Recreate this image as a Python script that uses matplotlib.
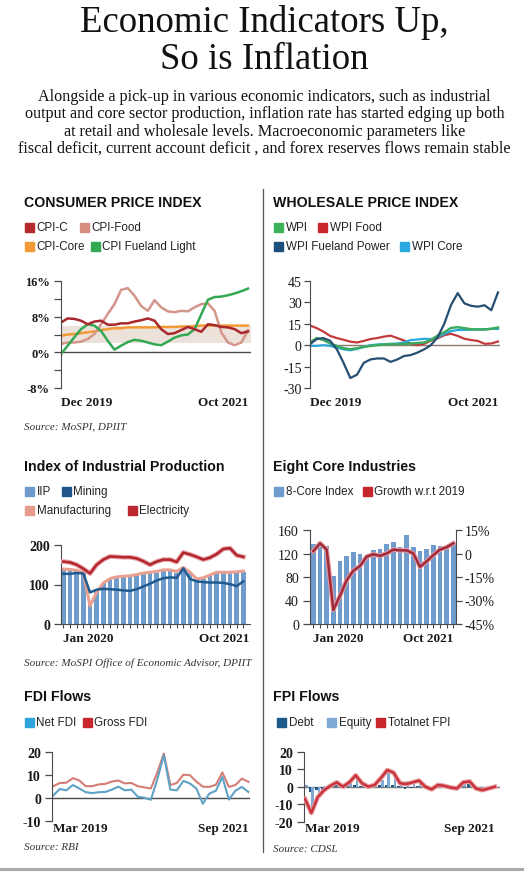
import matplotlib.pyplot as plt
import matplotlib.patheffects as pe
import matplotlib.transforms as mtransforms
from matplotlib.patches import Rectangle

W, H = 529, 878
SERIF = 'Liberation Serif'
SANS = 'Liberation Sans'
AXIS = '#4a4a4a'

# ---- consumer price index, % ----
cpi_dates = ['Dec 2019', 'Oct 2021']
cpi_c = [6.7, 7.6, 7.5, 7.1, 6.3, 6.9, 7.1, 6.2, 6.2, 6.5, 6.5, 6.9, 7.2, 7.6, 7.1,
         5.2, 4.1, 4.3, 5.0, 5.7, 5.2, 4.6, 6.3, 6.1, 5.7, 5.6, 5.2, 4.3, 4.7]
cpi_food = [1.9, 2.2, 2.2, 2.4, 3.0, 4.1, 6.3, 8.6, 10.8, 14.0, 14.4, 12.7, 10.4, 9.3, 11.7,
            10.1, 9.2, 9.0, 9.3, 9.2, 10.1, 10.8, 11.0, 9.3, 4.5, 2.2, 1.6, 2.2, 4.9]
cpi_core = [3.7, 4.0, 4.1, 4.3, 4.5, 4.7, 5.0, 5.2, 5.4, 5.4, 5.6, 5.6, 5.6, 5.6, 5.6,
            5.7, 5.7, 5.7, 5.8, 5.8, 5.9, 6.0, 6.0, 6.0, 6.0, 6.0, 6.0, 6.0, 6.0]
cpi_fuel = [-0.4, 1.5, 3.4, 5.2, 6.3, 6.0, 4.8, 2.6, 0.6, 1.5, 2.3, 2.8, 2.6, 2.2, 1.8,
            1.6, 2.4, 3.3, 3.8, 4.0, 5.2, 8.5, 11.8, 12.4, 12.5, 12.8, 13.2, 13.7, 14.3]
cpi_band = (2, 6)
cpi_ticks = [-8, 0, 8, 16]
cpi_ticklabels = ['-8%', '0%', '8%', '16%']

# ---- wholesale price index, % ----
wpi_dates = ['Dec 2019', 'Oct 2021']
wpi = [1.9, 5.0, 3.6, 1.2, -0.5, -2.1, -2.9, -2.1, -1.2, -0.5, 0.0, 0.5, 0.7, 0.7, 0.9,
       1.2, 1.5, 1.9, 3.6, 6.7, 9.0, 12.1, 12.6, 11.9, 11.2, 11.0, 11.0, 11.5, 12.4]
wpi_food = [13.8, 12.0, 9.5, 6.5, 5.0, 3.8, 2.5, 1.9, 3.0, 4.3, 5.0, 6.0, 6.7, 5.0, 3.3,
            1.0, 0.0, 1.0, 3.2, 4.8, 7.0, 8.0, 6.5, 4.5, 3.6, 3.0, 1.0, 1.2, 2.6]
wpi_fuel = [0.7, 4.3, 5.0, 3.1, -2.9, -12.4, -23.0, -20.7, -12.4, -10.0, -9.3, -9.3, -11.7, -10.0, -7.6,
            -6.9, -5.2, -2.9, 0.0, 5.5, 15.0, 28.1, 36.5, 29.3, 27.6, 27.0, 28.0, 24.5, 37.0]
wpi_core = [-0.5, -0.5, 0.0, -0.5, -1.7, -2.9, -3.6, -2.6, -1.2, 0.0, 0.5, 0.7, 1.0, 1.2, 1.9,
            3.6, 4.0, 4.5, 4.3, 5.5, 7.9, 9.8, 10.7, 10.7, 10.9, 11.0, 11.2, 11.4, 11.4]
wpi_ticks = [-30, -15, 0, 15, 30, 45]
wpi_ticklabels = ['-30', '-15', '0', '15', '30', '45']

# ---- index of industrial production ----
iip_dates = ['Jan 2020', 'Oct 2021']
iip = [137, 134, 133, 128, 52, 85, 103, 113, 117, 119, 120, 123, 126, 128,
       130, 134, 134, 130, 140, 128, 113, 115, 121, 128, 128, 128, 129, 131]
mining = [127, 127, 129, 128, 80, 87, 89, 88, 87, 85, 84, 88, 95, 102,
          110, 116, 118, 117, 141, 114, 108, 106, 105, 105, 104, 101, 96, 108]
manufacturing = [139, 138, 136, 131, 46, 80, 104, 115, 119, 121, 122, 125, 129, 131,
                 133, 137, 137, 133, 143, 131, 114, 117, 124, 131, 131, 131, 132, 134]
electricity = [158, 156, 150, 140, 128, 150, 163, 171, 170, 169, 169, 166, 159, 150,
               158, 163, 163, 157, 181, 176, 170, 163, 168, 177, 190, 192, 174, 170]
iip_ticks = [0, 100, 200]

# ---- eight core industries ----
core_dates = ['Jan 2020', 'Oct 2021']
core_index = [137, 137, 133, 82, 108, 115, 122, 120, 116, 126, 127,
              137, 139, 131, 151, 131, 125, 127, 135, 133, 128, 137]
core_growth = [1.5, 6.5, 2.5, -36.0, -27.0, -17.0, -11.0, -8.0, -2.0, -0.5, -1.5,
               0.0, 2.5, 2.0, 2.0, 0.0, -8.5, -5.0, -1.0, 2.5, 4.0, 6.5]
core_ticks = [0, 40, 80, 120, 160]
growth_ticks = [-45, -30, -15, 0, 15]
growth_ticklabels = ['-45%', '-30%', '-15%', '0', '15%']

# ---- FDI flows, $ bn ----
fdi_dates = ['Mar 2019', 'Sep 2021']
net_fdi = [1.0, 3.8, 3.2, 5.5, 4.0, 2.4, 2.0, 2.4, 2.5, 3.5, 4.8, 3.2, 3.5, 0.4, 0.0, -0.9,
           8.0, 18.5, 3.5, 3.2, 7.3, 6.2, 4.0, -2.6, 1.8, 3.0, 9.0, -0.8, 3.0, 4.7, 2.5]
gross_fdi = [5.0, 6.4, 6.5, 8.5, 7.5, 5.0, 5.0, 5.8, 6.0, 7.0, 7.5, 6.2, 6.4, 5.0, 4.5, 4.0,
             11.0, 19.2, 5.5, 6.4, 10.0, 9.8, 7.0, 4.8, 4.7, 5.6, 11.0, 4.7, 5.5, 8.3, 6.9]
fdi_ticks = [-10, 0, 10, 20]

# ---- FPI flows, $ bn ----
fpi_dates = ['Mar 2019', 'Sep 2021']
fpi_debt = [-8.0, -3.0, -2.0, -2.5, 0.5, 1.0, 0.0, 0.5, 1.0, 0.5, 0.0, 0.5, 1.0, 1.0, 1.0, 0.5,
            -1.5, -1.0, 0.5, 0.0, -0.5, 0.5, 0.2, 0.0, -0.5, 1.0, 1.5, -0.5, -0.5, -0.5, 0.0]
fpi_equity = [1.0, -12.0, -4.0, 0.5, 0.0, 1.5, 0.0, 2.0, 5.5, 1.5, 0.0, 0.5, 4.0, 8.5, 7.0, 1.5,
              3.0, 3.5, 3.0, 0.0, -1.0, 0.5, 0.3, -0.5, -0.5, 1.5, 1.5, -0.5, -1.5, -0.5, 0.0]
fpi_total = [-7.0, -15.0, -6.0, -2.0, 0.5, 2.5, 0.0, 2.5, 6.5, 2.0, 0.0, 1.0, 5.0, 9.5, 8.0, 2.0,
             1.5, 2.5, 3.5, 0.0, -1.5, 1.0, 0.5, -0.5, -1.0, 2.5, 3.0, -1.0, -2.0, -1.0, 0.0]
fpi_ticks = [-20, -10, 0, 10, 20]

fig = plt.figure(figsize=(W / 100, H / 100), dpi=100)


def add_ax(left, top, right, bottom):
    # box given in pixels of the picture
    return fig.add_axes([left / W, 1 - bottom / H, (right - left) / W, (bottom - top) / H])


def put(x, y, s, **kw):
    return fig.text(x / W, 1 - y / H, s, **kw)


def legend(y, items):
    for x, color, label in items:
        fig.add_artist(Rectangle((x / W, 1 - (y + 4.5) / H), 8.5 / W, 8.5 / H,
                                 color=color, transform=fig.transFigure))
        put(x + 11.5, y, label, fontsize=8.4, family=SANS, va='center', color='#222')


def panel_title(x, y, s):
    put(x, y, s, fontsize=10.2, family=SANS, fontweight='bold', va='center', color='#111')


def source(x, y, s):
    put(x, y, s, fontsize=8, family=SERIF, style='italic', va='center', color='#333')


def style(ax, ylim, yticks, ylabels, xlim, dates, n, bars=False, ysize=9, yweight='bold', xpad=6, shift=0):
    ax.set_xlim(*xlim)
    ax.set_ylim(*ylim)
    ax.set_facecolor('none')
    for s in ('top', 'right'):
        ax.spines[s].set_visible(False)
    ax.spines['bottom'].set_visible(bars)
    ax.spines['left'].set_color(AXIS)
    ax.spines['bottom'].set_color(AXIS)
    ax.set_yticks(yticks, ylabels, family=SERIF, fontsize=ysize, fontweight=yweight)
    ax.tick_params(axis='y', length=5, width=0.9, color=AXIS, pad=3, labelcolor='#1a1a1a')
    if bars:
        ax.set_xticks(range(n), [dates[0]] + [''] * (n - 2) + [dates[1]])
        ax.tick_params(axis='x', length=3, width=0.8, color=AXIS, pad=xpad)
    else:
        ax.set_xticks([0, n - 1], dates)
        ax.tick_params(axis='x', length=0, pad=xpad)
    labels = ax.get_xticklabels()
    for lab in labels:
        lab.set_fontfamily(SERIF)
        lab.set_fontsize(9.5)
        lab.set_fontweight('bold')
        lab.set_color('#1a1a1a')
    labels[0].set_ha('left')
    labels[-1].set_ha('right')
    if shift:
        # nudge the end label to sit flush with the axis end
        off = mtransforms.ScaledTranslation(shift / 100, 0, fig.dpi_scale_trans)
        for t in ax.xaxis.get_major_ticks()[-1:]:
            t.label1.set_transform(t.label1.get_transform() + off)


def halo(color):
    return [pe.Stroke(linewidth=3.4, foreground=color), pe.Normal()]


# ---- headline ----
put(264.5, 23, 'Economic Indicators Up,', family=SERIF, fontsize=26.5, ha='center', va='center', color='#111')
put(264.5, 60, 'So is Inflation', family=SERIF, fontsize=26.5, ha='center', va='center', color='#111')
intro = ['Alongside a pick-up in various economic indicators, such as industrial',
         'output and core sector production, inflation rate has started edging up both',
         'at retail and wholesale levels. Macroeconomic parameters like',
         'fiscal deficit, current account deficit , and forex reserves flows remain stable']
for i, line in enumerate(intro):
    put(264.5, 97 + i * 17.3, line, family=SERIF, fontsize=11.6, ha='center', va='center', color='#111')

# dividers
fig.add_artist(plt.Line2D([263 / W, 263 / W], [1 - 190 / H, 1 - 853 / H], color='#555', lw=0.9))
fig.add_artist(plt.Line2D([0, 522 / W], [1 - 870 / H, 1 - 870 / H], color='#aaa', lw=2.2))

# ---- CPI ----
panel_title(24, 203, 'CONSUMER PRICE INDEX')
legend(228, [(25, '#b52a2d', 'CPI-C'), (80, '#d98f80', 'CPI-Food')])
legend(247, [(25, '#f29a35', 'CPI-Core'), (91, '#33a853', 'CPI Fueland Light')])
ax = add_ax(61, 282, 251, 389)
x = range(len(cpi_c))
ax.axhspan(*cpi_band, color='#ede2d9', zorder=0, lw=0)
ax.axhline(0, color=AXIS, lw=1, zorder=1)
ax.plot(x, cpi_core, color='#f29a35', lw=1.8)
ax.plot(x, cpi_food, color='#d4958a', lw=1.8)
ax.plot(x, cpi_fuel, color='#33a853', lw=1.8)
ax.plot(x, cpi_c, color='#a8282c', lw=1.8)
style(ax, (-8, 16), cpi_ticks, cpi_ticklabels, (0, 28.45), cpi_dates, len(cpi_c), ysize=9)
ax.set_yticks([-4, 4, 12], minor=True)
ax.tick_params(axis='y', which='minor', length=5, width=0.9, color=AXIS)
source(24, 427, 'Source: MoSPI, DPIIT')

# ---- WPI ----
panel_title(273, 203, 'WHOLESALE PRICE INDEX')
legend(228, [(274, '#3cb35a', 'WPI'), (318, '#c7262c', 'WPI Food')])
legend(247, [(274, '#1d4f7d', 'WPI Fueland Power'), (400, '#2ba8e0', 'WPI Core')])
ax = add_ax(310, 282, 500, 389)
x = range(len(wpi))
ax.axhline(0, color='#8c7a70', lw=1, zorder=1)
ax.plot(x, wpi_food, color='#c23a3a', lw=1.6)
ax.plot(x, wpi_core, color='#2ba8e0', lw=1.6)
ax.plot(x, wpi, color='#3cab5f', lw=1.8)
ax.plot(x, wpi_fuel, color='#264e73', lw=1.6)
style(ax, (-30, 45), wpi_ticks, wpi_ticklabels, (0, 28.3), wpi_dates, len(wpi), ysize=10, yweight='normal')
ax.tick_params(axis='y', length=4, pad=2)

# ---- IIP ----
panel_title(24, 467, 'Index of Industrial Production')
legend(492, [(25, '#6f9bcd', 'IIP'), (62, '#1f5588', 'Mining')])
legend(511, [(25, '#e69a8a', 'Manufacturing'), (128, '#b8282e', 'Electricity')])
ax = add_ax(61, 546, 250, 625)
x = range(len(iip))
ax.bar(x, iip, width=0.72, color='#6f9bcd', zorder=1)
ax.plot(x, manufacturing, color='#e9a091', lw=2.2, zorder=2)
ax.plot(x, mining, color='#215a8f', lw=1.8, zorder=3)
ax.plot(x, electricity, color='#b3262d', lw=1.8, zorder=3, path_effects=halo('#e6a3a6'))
style(ax, (0, 200), iip_ticks, [str(t) for t in iip_ticks], (-0.35, 28), iip_dates, len(iip),
      bars=True, ysize=10, xpad=3, shift=6)
source(24, 663, 'Source: MoSPI Office of Economic Advisor, DPIIT')

# ---- eight core ----
panel_title(273, 467, 'Eight Core Industries')
legend(492, [(274, '#6f9bcd', '8-Core Index'), (363, '#c7262c', 'Growth w.r.t 2019')])
ax = add_ax(310, 531, 456, 625)
x = range(len(core_index))
ax.bar(x, core_index, width=0.72, color='#6f9bcd', zorder=1)
style(ax, (0, 160), core_ticks, [str(t) for t in core_ticks], (-0.5, 21.4), core_dates, len(core_index),
      bars=True, ysize=10, yweight='normal', xpad=3)
ax2 = ax.twinx()
ax2.plot(x, core_growth, color='#9e2a3a', lw=1.8, path_effects=halo('#e49aa3'))
ax2.set_ylim(-45, 15)
for s in ('top', 'left', 'bottom'):
    ax2.spines[s].set_visible(False)
ax2.spines['right'].set_color(AXIS)
ax2.set_yticks(growth_ticks, growth_ticklabels, family=SERIF, fontsize=10)
ax2.tick_params(axis='y', length=4, width=0.9, color=AXIS, pad=2, labelcolor='#1a1a1a')

# ---- FDI ----
panel_title(24, 697, 'FDI Flows')
legend(723, [(25, '#2fa4dc', 'Net FDI'), (83, '#c7262c', 'Gross FDI')])
ax = add_ax(52, 752.7, 250, 821.7)
x = range(len(net_fdi))
ax.axhline(0, color=AXIS, lw=1, zorder=1)
ax.plot(x, gross_fdi, color='#d47d76', lw=1.5)
ax.plot(x, net_fdi, color='#5fa2c4', lw=1.5)
style(ax, (-10, 20), fdi_ticks, [str(t) for t in fdi_ticks], (-0.2, 30.25), fdi_dates, len(net_fdi),
      ysize=10, xpad=1)
source(24, 848, 'Source: RBI')

# ---- FPI ----
panel_title(273, 697, 'FPI Flows')
legend(723, [(277, '#1d5a8a', 'Debt'), (327, '#7fa8d4', 'Equity'), (376, '#c7262c', 'Totalnet FPI')])
ax = add_ax(304, 752.7, 500, 822.7)
x = list(range(len(fpi_total)))
ax.axhline(0, color='#777', lw=1, zorder=1)
ax.bar([i - 0.22 for i in x], fpi_debt, width=0.44, color='#1d5a8a', zorder=2)
ax.bar([i + 0.22 for i in x], fpi_equity, width=0.44, color='#7fa8d4', zorder=2)
ax.plot(x, fpi_total, color='#c9343c', lw=1.8, zorder=3, path_effects=halo('#eaa0a4'))
style(ax, (-20, 20), fpi_ticks, [str(t) for t in fpi_ticks], (-0.16, 30.8), fpi_dates, len(fpi_total),
      ysize=10, xpad=0)
source(273, 850, 'Source: CDSL')

fig.savefig('out.png', dpi=100)
